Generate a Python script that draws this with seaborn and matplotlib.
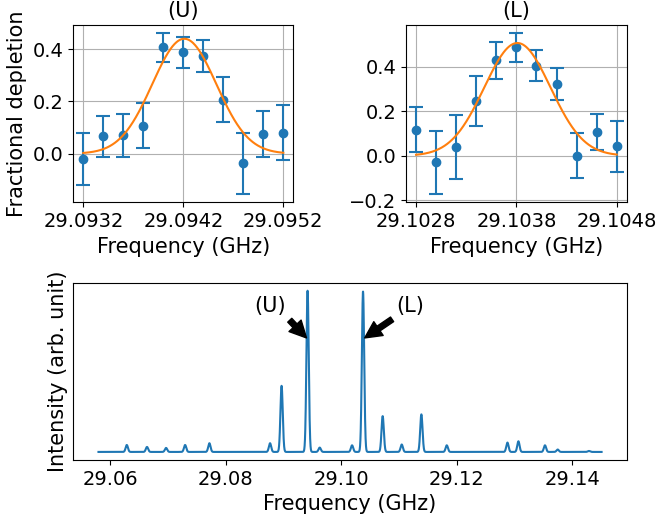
import numpy as np
import pandas as pd
import matplotlib
matplotlib.use("Agg")
import matplotlib.pyplot as plt
import seaborn as sns

# ---------------- data ----------------
freq_U = [29.0932, 29.0934, 29.0936, 29.0938, 29.0940, 29.0942,
          29.0944, 29.0946, 29.0948, 29.0950, 29.0952]
dep_U = [-0.020, 0.067, 0.070, 0.108, 0.407, 0.389, 0.373, 0.207, -0.037, 0.076, 0.080]
err_U = [0.098, 0.079, 0.083, 0.088, 0.055, 0.059, 0.062, 0.085, 0.118, 0.087, 0.105]

freq_L = [29.1028, 29.1030, 29.1032, 29.1034, 29.1036, 29.1038,
          29.1040, 29.1042, 29.1044, 29.1046, 29.1048]
dep_L = [0.117, -0.030, 0.040, 0.246, 0.430, 0.488, 0.405, 0.324, 0.001, 0.107, 0.043]
err_L = [0.101, 0.143, 0.143, 0.113, 0.082, 0.065, 0.070, 0.072, 0.102, 0.081, 0.115]

# Gaussian fit parameters: amplitude, centre (GHz), sigma (GHz)
fit_U = (0.440, 29.09421, 0.00032)
fit_L = (0.508, 29.10381, 0.00033)

ticks_U = [29.0932, 29.0942, 29.0952]
ticks_L = [29.1028, 29.1038, 29.1048]

# simulated spectrum: line centres (GHz) and relative intensities
line_pos = [29.0629, 29.0664, 29.0697, 29.0730, 29.0772, 29.0877, 29.0897,
            29.0942, 29.0963, 29.1019, 29.1038, 29.1072, 29.1105, 29.1139,
            29.1183, 29.1288, 29.1307, 29.1353, 29.1375, 29.1429]
line_int = [0.043, 0.031, 0.025, 0.043, 0.054, 0.054, 0.41,
            1.000, 0.027, 0.041, 0.995, 0.222, 0.046, 0.233,
            0.041, 0.058, 0.066, 0.041, 0.015, 0.006]
line_width = 0.00020
spec_range = (29.0580, 29.1451)
ticks_spec = [29.06, 29.08, 29.10, 29.12, 29.14]

# ---------------- style ----------------
plt.rcParams['font.family'] = ['DejaVu Sans']
plt.rcParams['font.size'] = 14
LABEL_FS = 15
blue = '#1f77b4'
orange = '#ff7f0e'

fig = plt.figure(figsize=(6.6, 5.2), dpi=100)
ax1 = fig.add_axes([0.1111, 0.6110, 0.3333, 0.3410])
ax2 = fig.add_axes([0.6152, 0.6110, 0.3344, 0.3410])
ax3 = fig.add_axes([0.1111, 0.1154, 0.8385, 0.3410])


def gauss(x, a, m, s):
    return a * np.exp(-(x - m) ** 2 / (2 * s ** 2))


def depletion_panel(ax, f, d, e, fit, ticks, title):
    f = np.asarray(f)
    xf = np.linspace(f.min(), f.max(), 400)
    df = pd.DataFrame({'x': xf, 'y': gauss(xf, *fit)})
    ax.errorbar(f, d, yerr=e, fmt='o', color=blue, capsize=5,
                markersize=6, elinewidth=1.5, capthick=1.5, zorder=2)
    sns.lineplot(data=df, x='x', y='y', ax=ax, color=orange, lw=1.5,
                 zorder=3, estimator=None, sort=False)
    ax.set_xticks(ticks)
    ax.set_xticklabels([f"{t:.4f}" for t in ticks])
    ax.tick_params(labelsize=14)
    ax.grid(True, color='#b0b0b0', lw=0.8)
    ax.set_axisbelow(True)
    ax.set_title(title, fontsize=LABEL_FS)
    ax.set_xlabel('Frequency (GHz)', fontsize=LABEL_FS)
    ax.set_ylabel('')


depletion_panel(ax1, freq_U, dep_U, err_U, fit_U, ticks_U, '(U)')
depletion_panel(ax2, freq_L, dep_L, err_L, fit_L, ticks_L, '(L)')
ax1.set_ylabel('Fractional depletion', fontsize=LABEL_FS)
ax1.set_yticks([0.0, 0.2, 0.4])
ax2.set_yticks([-0.2, 0.0, 0.2, 0.4])

# spectrum
xs = np.linspace(spec_range[0], spec_range[1], 6000)
ys = np.zeros_like(xs)
for p, h in zip(line_pos, line_int):
    ys += gauss(xs, h, p, line_width)
spec = pd.DataFrame({'Frequency': xs, 'Intensity': ys})
sns.lineplot(data=spec, x='Frequency', y='Intensity', ax=ax3, color=blue,
             lw=1.5, estimator=None, sort=False)
ax3.set_xticks(ticks_spec)
ax3.set_xticklabels([f"{t:.2f}" for t in ticks_spec])
ax3.tick_params(labelsize=14)
ax3.set_yticks([])
ax3.set_xlabel('Frequency (GHz)', fontsize=LABEL_FS)
ax3.set_ylabel('Intensity (arb. unit)', fontsize=LABEL_FS)
ax3.annotate('(U)', xy=(29.0942, 0.70), xytext=(29.0850, 0.866),
             arrowprops=dict(facecolor='black', shrink=0.05), fontsize=LABEL_FS)
ax3.annotate('(L)', xy=(29.1038, 0.70), xytext=(29.1096, 0.866),
             arrowprops=dict(facecolor='black', shrink=0.05), fontsize=LABEL_FS)

for ax in (ax1, ax2, ax3):
    for sp in ax.spines.values():
        sp.set_color('black')
        sp.set_linewidth(0.8)

fig.savefig('out.png', dpi=100)
